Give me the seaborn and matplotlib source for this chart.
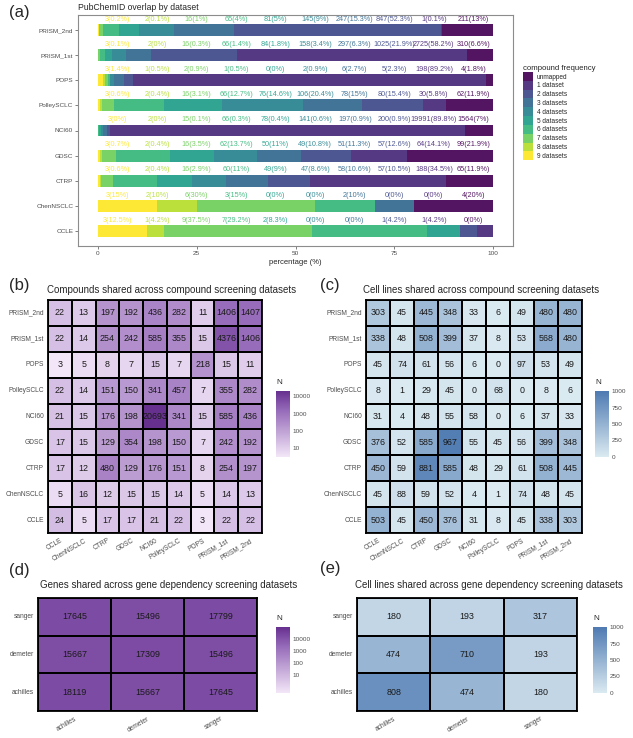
import numpy as np
import pandas as pd
import matplotlib
matplotlib.use("Agg")
import matplotlib.pyplot as plt
import seaborn as sns
from matplotlib.colors import LogNorm, Normalize, LinearSegmentedColormap
from matplotlib.patches import Patch

# ---------- data: (a) compound frequency per dataset ----------
datasets = ["CCLE", "ChenNSCLC", "CTRP", "GDSC", "NCI60",
            "PolleySCLC", "POPS", "PRISM_1st", "PRISM_2nd"]
freq_levels = ["9 datasets", "8 datasets", "7 datasets", "6 datasets", "5 datasets",
               "4 datasets", "3 datasets", "2 datasets", "1 dataset", "unmapped"]

counts_ccle = [3, 1, 9, 7, 2, 0, 0, 1, 1, 0]
counts_chen = [3, 2, 6, 3, 0, 0, 2, 0, 0, 4]
counts_ctrp = [3, 2, 16, 60, 49, 47, 58, 57, 188, 65]
counts_gdsc = [3, 2, 16, 62, 50, 49, 51, 57, 64, 99]
counts_nci60 = [3, 2, 15, 66, 78, 141, 197, 200, 19991, 1564]
counts_polley = [3, 2, 16, 66, 76, 106, 78, 80, 30, 62]
counts_pops = [3, 1, 2, 1, 0, 2, 6, 5, 198, 4]
counts_prism1 = [3, 2, 16, 66, 84, 158, 297, 1025, 2725, 310]
counts_prism2 = [3, 2, 16, 65, 81, 145, 247, 847, 1, 211]

# ---------- data: (b) compounds shared, (c) cell lines shared ----------
compound_cols = datasets
compound_rows = datasets[::-1]  # top -> bottom
compounds_shared = [
    [22, 13, 197, 192, 436, 282, 11, 1406, 1407],
    [22, 14, 254, 242, 585, 355, 15, 4376, 1406],
    [3, 5, 8, 7, 15, 7, 218, 15, 11],
    [22, 14, 151, 150, 341, 457, 7, 355, 282],
    [21, 15, 176, 198, 20693, 341, 15, 585, 436],
    [17, 15, 129, 354, 198, 150, 7, 242, 192],
    [17, 12, 480, 129, 176, 151, 8, 254, 197],
    [5, 16, 12, 15, 15, 14, 5, 14, 13],
    [24, 5, 17, 17, 21, 22, 3, 22, 22],
]
cells_shared_compound = [
    [303, 45, 445, 348, 33, 6, 49, 480, 480],
    [338, 48, 508, 399, 37, 8, 53, 568, 480],
    [45, 74, 61, 56, 6, 0, 97, 53, 49],
    [8, 1, 29, 45, 0, 68, 0, 8, 6],
    [31, 4, 48, 55, 58, 0, 6, 37, 33],
    [376, 52, 585, 967, 55, 45, 56, 399, 348],
    [450, 59, 881, 585, 48, 29, 61, 508, 445],
    [45, 88, 59, 52, 4, 1, 74, 48, 45],
    [503, 45, 450, 376, 31, 8, 45, 338, 303],
]

# ---------- data: (d) genes shared, (e) cell lines shared ----------
gene_cols = ["achilles", "demeter", "sanger"]
gene_rows = ["sanger", "demeter", "achilles"]
genes_shared = [
    [17645, 15496, 17799],
    [15667, 17309, 15496],
    [18119, 15667, 17645],
]
cells_shared_gene = [
    [180, 193, 317],
    [474, 710, 193],
    [808, 474, 180],
]

# ---------- style ----------
sns.set_theme(style="white")
plt.rcParams["font.family"] = ["Liberation Sans", "DejaVu Sans"]
GREY = "#4d4d4d"

W, H = 633, 738
fig = plt.figure(figsize=(W / 100, H / 100), dpi=100)


def rect(x0, y0, x1, y1):
    return [x0 / W, 1 - y1 / H, (x1 - x0) / W, (y1 - y0) / H]


def fx(x):
    return x / W


def fy(y):
    return 1 - y / H


# ---------- (a) stacked bars ----------
# viridis incl. both ends, like ggplot's scale_fill_viridis_d; 9 datasets = yellow
palette = [tuple(c) for c in plt.get_cmap("viridis")(np.linspace(0, 1, 10))][::-1]
all_counts = [counts_ccle, counts_chen, counts_ctrp, counts_gdsc, counts_nci60,
              counts_polley, counts_pops, counts_prism1, counts_prism2]

ax_a = fig.add_axes(rect(78, 15, 513, 246))
label_x = np.arange(5, 100, 10)
for i, (name, cnts) in enumerate(zip(datasets, all_counts)):
    cnts = np.asarray(cnts, dtype=float)
    pct = cnts / cnts.sum() * 100
    left = np.concatenate([[0], np.cumsum(pct)[:-1]])
    ax_a.barh([i] * len(pct), pct, left=left, height=0.47,
              color=palette, edgecolor="none", alpha=0.92)
    for j, (c, p) in enumerate(zip(cnts.astype(int), pct)):
        ax_a.text(label_x[j], i + 0.43, f"{c}({round(p, 1):g}%)", ha="center",
                  va="center", fontsize=5.2, color=palette[j], alpha=0.9)

ax_a.set_xlim(-5, 105)
ax_a.set_ylim(-0.6, 8.6)
ax_a.set_yticks(range(len(datasets)))
ax_a.set_yticklabels(datasets)
ax_a.set_xticks([0, 25, 50, 75, 100])
ax_a.set_xticklabels(["0", "25", "50", "75", "100"])
ax_a.tick_params(axis="both", labelsize=4.6, labelcolor=GREY, length=2,
                 width=0.5, color=GREY, pad=1.5, left=True, bottom=True)
ax_a.set_xlabel("percentage (%)", fontsize=5.5, labelpad=2)
for sp in ax_a.spines.values():
    sp.set_color("#8c8c8c")
    sp.set_linewidth(0.8)
ax_a.grid(False)

handles = [Patch(facecolor=palette[k], edgecolor="none", label=freq_levels[k], alpha=0.92)
           for k in range(len(freq_levels) - 1, -1, -1)]
leg = fig.legend(handles=handles, title="compound frequency", loc="upper left",
                 bbox_to_anchor=(fx(523), fy(65)), frameon=False, fontsize=4.7,
                 title_fontsize=5.6, handlelength=1.6, handleheight=1.7,
                 labelspacing=0.0, handletextpad=0.5, borderpad=0, borderaxespad=0)
leg._legend_box.align = "left"

fig.text(fx(78), fy(7), "PubChemID overlap by dataset", fontsize=6.2,
         ha="left", va="center")

# ---------- heatmaps ----------
purples = LinearSegmentedColormap.from_list(
    "pur", [(0, "#f3e6f8"), (0.45, "#b898d0"), (0.72, "#9468b8"), (1, "#66308f")])
blues = LinearSegmentedColormap.from_list("blu", ["#dbeaf1", "#4e7ab2"])


def draw_heat(ax, cax, mat, rows, cols, cmap, norm, ticks, title, tx, ty):
    df = pd.DataFrame(mat, index=rows, columns=cols)
    sns.heatmap(df, ax=ax, cbar_ax=cax, cmap=cmap, norm=norm, annot=True, fmt="d",
                annot_kws={"size": 6.4, "color": "#1a1a1a"},
                linewidths=1.3, linecolor="black",
                cbar_kws={"ticks": ticks, "format": "%d"})
    for sp in ax.spines.values():
        sp.set_visible(True)
        sp.set_color("black")
        sp.set_linewidth(1.3)
    ax.set_xlabel("")
    ax.set_ylabel("")
    ax.tick_params(axis="both", length=0, labelsize=4.8, labelcolor=GREY, pad=3)
    plt.setp(ax.get_xticklabels(), rotation=30, ha="right", rotation_mode="anchor")
    plt.setp(ax.get_yticklabels(), rotation=0)
    cax.minorticks_off()
    cax.tick_params(labelsize=4.6, labelcolor=GREY, length=2.5, width=0.6,
                    color="white", direction="in", pad=2)
    for sp in cax.spines.values():
        sp.set_visible(False)
    p = cax.get_position()
    fig.text(p.x0, p.y1 + 8 / H, "N", fontsize=5.8, ha="left", va="center")
    fig.text(fx(tx), fy(ty), title, fontsize=7.0, ha="left", va="center")


ax_b = fig.add_axes(rect(48, 300, 262, 533))
cax_b = fig.add_axes(rect(276, 391, 290, 457))
draw_heat(ax_b, cax_b, compounds_shared, compound_rows, compound_cols, purples,
          LogNorm(vmin=3, vmax=20693), [10, 100, 1000, 10000],
          "Compounds shared across compound screening datasets", 47, 290)

ax_c = fig.add_axes(rect(366, 300, 582, 533))
cax_c = fig.add_axes(rect(595, 391, 609, 457))
draw_heat(ax_c, cax_c, cells_shared_compound, compound_rows, compound_cols, blues,
          Normalize(vmin=0, vmax=1000), [0, 250, 500, 750, 1000],
          "Cell lines shared across compound screening datasets", 363, 290)

ax_d = fig.add_axes(rect(38, 598, 257, 711))
cax_d = fig.add_axes(rect(276, 627, 290, 693))
draw_heat(ax_d, cax_d, genes_shared, gene_rows, gene_cols, purples,
          LogNorm(vmin=0.3, vmax=100000), [10, 100, 1000, 10000],
          "Genes shared across gene dependency screening datasets", 40, 585)

ax_e = fig.add_axes(rect(357, 598, 577, 711))
cax_e = fig.add_axes(rect(593, 627, 607, 693))
draw_heat(ax_e, cax_e, cells_shared_gene, gene_rows, gene_cols, blues,
          Normalize(vmin=0, vmax=1000), [0, 250, 500, 750, 1000],
          "Cell lines shared across gene dependency screening datasets", 355, 585)

# ---------- panel letters ----------
for letter, x, y in [("(a)", 9, 13), ("(b)", 9, 285), ("(c)", 320, 285),
                     ("(d)", 9, 571), ("(e)", 320, 569)]:
    fig.text(fx(x), fy(y), letter, fontsize=12, ha="left", va="center")

fig.savefig("out.png", dpi=100)
